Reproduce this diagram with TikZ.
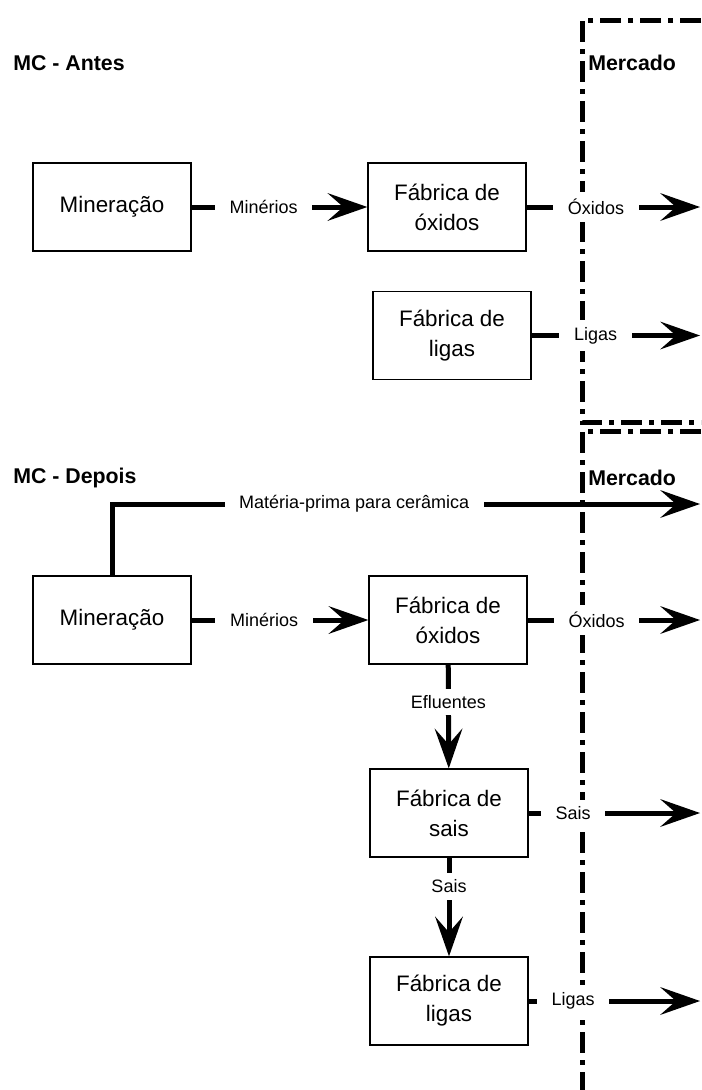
\documentclass[tikz,border=0pt]{standalone}
\usepackage{fontspec}
\setmainfont{Liberation Sans}
\usetikzlibrary{arrows.meta}

\newcommand{\boxfont}{\fontsize{16.8}{22.5}\selectfont}
\newcommand{\lblfont}{\fontsize{13.5}{16}\selectfont}
\newcommand{\titlefont}{\fontsize{16}{19}\selectfont\bfseries}

\begin{document}
\begin{tikzpicture}
	[x=0.75pt,y=-0.75pt,
	box/.style={draw, line width=1pt, minimum width=118.5pt, minimum height=66pt, align=center, font=\boxfont},
	flow/.style={line width=3.75pt, -{Stealth[length=30pt,width=21pt,inset=12pt,line width=0pt]}},
	lbl/.style={fill=white, font=\lblfont, inner xsep=11pt, inner ysep=5pt},
	border/.style={line width=3.75pt, dash pattern=on 15.75pt off 5.25pt on 3.75pt off 5.25pt},
	title/.style={font=\titlefont, anchor=west, inner sep=0pt}]
	\useasboundingbox (0,0) rectangle (701,1090);
	
	% market frames
	\draw[border] (701,20) -| (582,422) -- (701,422);
	\draw[border] (701,431) -| (582,1090);
	
	\node[title] (antes) at (13,63) {MC - Antes};
	\node[title] (mercA) at (588,63) {Mercado};
	\node[title] (depois) at (13,478) {MC - Depois};
	\node[title] (mercB) at (588,478) {Mercado};
	
	\node[box] (mineA) at (112,207) {Mineração};
	\node[box] (oxA) at (447,207) {Fábrica de\\óxidos};
	\node[box] (ligA) at (452,335.5) {Fábrica de\\ligas};
	
	\node[box] (mineB) at (112,620) {Mineração};
	\node[box] (oxB) at (448,620) {Fábrica de\\óxidos};
	\node[box] (saisB) at (449,813) {Fábrica de\\sais};
	\node[box] (ligB) at (449,1001) {Fábrica de\\ligas};
	
	\coordinate (mkA1) at (700,207);
	\coordinate (mkA2) at (700,335.5);
	\coordinate (mkB0) at (700,504);
	\coordinate (mkB1) at (700,620);
	\coordinate (mkB2) at (700,813);
	\coordinate (mkB3) at (700,1001);
	
	\foreach \from/\to/\lab/\p in {mineA/oxA/Minérios/.41, oxA/mkA1/Óxidos/.40, ligA/mkA2/Ligas/.38,
		mineB/oxB/Minérios/.41, oxB/mkB1/Óxidos/.40, oxB/saisB/Efluentes/.36,
		saisB/mkB2/Sais/.26, saisB/ligB/Sais/.29, ligB/mkB3/Ligas/.26}
	\draw[flow] (\from) -- node[lbl, pos=\p] {\lab} (\to);
	
	\draw[flow] (mineB.north) |- node[lbl, pos=.706] (mp) {Matéria-prima para cerâmica} (mkB0);
\end{tikzpicture}
\end{document}
